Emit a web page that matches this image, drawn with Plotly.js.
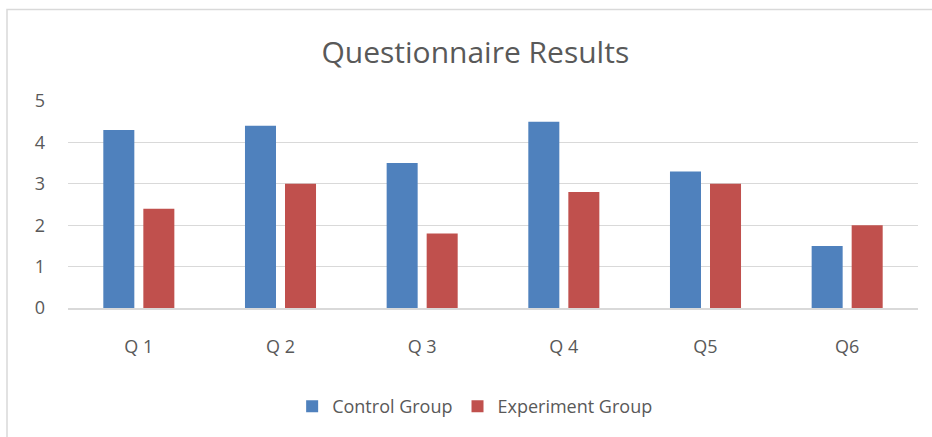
<!DOCTYPE html>
<html>
<head>
<meta charset="utf-8">
<script src="https://cdn.plot.ly/plotly-3.0.1.min.js"></script>
<style>
html,body{margin:0;padding:0;background:#fff;}
#chart{width:932px;height:437px;}
</style>
</head>
<body>
<div id="chart"></div>
<script>
const categories = ["Q 1", "Q 2", "Q 3", "Q 4", "Q5", "Q6"];
const controlGroup = [4.3, 4.4, 3.5, 4.5, 3.3, 1.5];
const experimentGroup = [2.4, 3.0, 1.8, 2.8, 3.0, 2.0];
const yTicks = [0, 1, 2, 3, 4, 5];

const FONT = "Open Sans, Liberation Sans, sans-serif";
const L = 68, R = 14, T = 101, B = 129, W = 932, H = 437;
const pw = W - L - R, ph = H - T - B;

const traces = [
  {type: "bar", name: "Control Group", x: categories, y: controlGroup,
   marker: {color: "#4f81bd"}, hoverinfo: "x+y+name"},
  {type: "bar", name: "Experiment Group", x: categories, y: experimentGroup,
   marker: {color: "#c0504d"}, hoverinfo: "x+y+name"}
];

const layout = {
  width: W, height: H,
  margin: {l: L, r: R, t: T, b: B, pad: 0},
  paper_bgcolor: "#ffffff", plot_bgcolor: "#ffffff",
  font: {family: FONT, color: "#595959", size: 17},
  title: {text: "Questionnaire Results", font: {family: FONT, size: 30, color: "#595959"},
          x: 0.51, xanchor: "center", y: 0.88, yanchor: "middle"},
  barmode: "group", bargap: 0.435, bargroupgap: 0.225,
  xaxis: {type: "category", showgrid: false, zeroline: false, showline: true,
          linecolor: "#d9d9d9", linewidth: 1.5, ticks: "", ticklabelstandoff: 22,
          tickfont: {family: FONT, size: 18, color: "#595959"}},
  yaxis: {range: [0, 5], tickvals: yTicks, ticktext: yTicks.map(String),
          showgrid: true, gridcolor: "#d9d9d9", gridwidth: 1.2, zeroline: false,
          showline: false, ticks: "", ticklabelstandoff: 22,
          tickfont: {family: FONT, size: 18, color: "#595959"}},
  legend: {orientation: "h", x: 0.479, xanchor: "center", y: -0.476, yanchor: "middle",
           font: {family: FONT, size: 18, color: "#595959"}, traceorder: "normal",
           itemwidth: 30},
  showlegend: true,
  shapes: [{type: "rect", xref: "paper", yref: "paper",
            x0: (7 - L) / pw, x1: (940 - L) / pw,
            y0: (H - 445 - B) / ph, y1: (H - 9.5 - B) / ph,
            line: {color: "#d9d9d9", width: 1.5}, fillcolor: "rgba(0,0,0,0)", layer: "below"}]
};

Plotly.newPlot("chart", traces, layout, {displayModeBar: false, staticPlot: true});
</script>
</body>
</html>
